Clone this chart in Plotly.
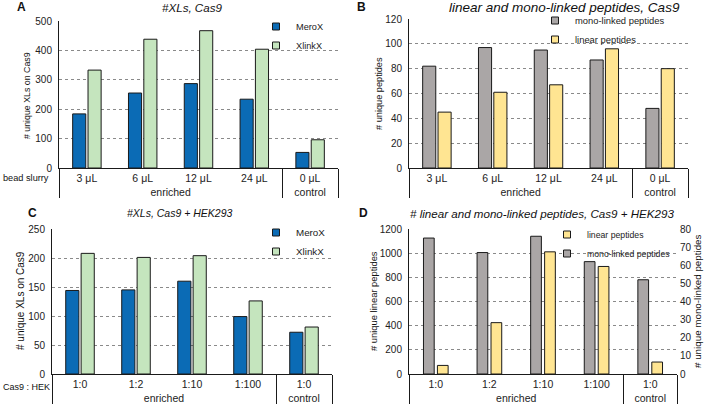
import plotly.graph_objects as go

# ---- data ----
groups_ab = ["enriched"] * 4 + ["control"]
bead_slurry = ["3 μL", "6 μL", "12 μL", "24 μL", "0 μL"]

merox_a = [184, 255, 287, 234, 53]
xlinkx_a = [333, 438, 467, 404, 96]

mono_b = [82, 97, 95, 87, 48]
linear_b = [45, 61, 67, 96, 80]

groups_cd = ["enriched"] * 4 + ["control"]
cas9_hek = ["1:0", "1:2", "1:10", "1:100", "1:0"]

merox_c = [144, 145, 160, 99, 72]
xlinkx_c = [208, 201, 204, 126, 81]

linear_d = [71, 425, 1011, 890, 99]
mono_d = [75, 67, 76, 62, 52]

BLUE = '#0b6bb5'
GREEN = '#c5e5be'
GRAY = '#aaa6a6'
YELLOW = '#ffe592'
EDGE = '#1a1a1a'
FONT = 'Liberation Sans, Arial, sans-serif'
W, H = 708, 410


def px_x(v):
    return v / W


def px_y(v):
    return 1 - v / H


x_ab = [groups_ab, bead_slurry]
x_cd = [groups_cd, cas9_hek]

# bar geometry (category units)
BW, OFF1, OFF2 = 0.235, -0.255, 0.02
BW_D, OFF1_D, OFF2_D = 0.2, -0.23, 0.03

fig = go.Figure()


def bar(x, y, name, color, xa, ya, legend, w=BW, off=OFF1):
    fig.add_trace(go.Bar(
        x=x, y=y, name=name, xaxis=xa, yaxis=ya, showlegend=False,
        width=w, offset=off,
        marker=dict(color=color, line=dict(color=EDGE, width=1)),
    ))
    # small square legend key, like the spreadsheet legend
    fig.add_trace(go.Scatter(
        x=[None], y=[None], name=name, xaxis=xa, yaxis=ya, legend=legend,
        mode='markers', hoverinfo='skip',
        marker=dict(symbol='square', size=7, color=color,
                    line=dict(color=EDGE, width=1)),
    ))


bar(x_ab, merox_a, 'MeroX', BLUE, 'x', 'y', 'legend', off=OFF1)
bar(x_ab, xlinkx_a, 'XlinkX', GREEN, 'x', 'y', 'legend', off=OFF2)
bar(x_ab, mono_b, 'mono-linked peptides', GRAY, 'x2', 'y2', 'legend2', off=OFF1)
bar(x_ab, linear_b, 'linear peptides', YELLOW, 'x2', 'y2', 'legend2', off=OFF2)
bar(x_cd, merox_c, 'MeroX', BLUE, 'x3', 'y3', 'legend3', off=OFF1)
bar(x_cd, xlinkx_c, 'XlinkX', GREEN, 'x3', 'y3', 'legend3', off=OFF2)
bar(x_cd, linear_d, 'linear peptides', YELLOW, 'x4', 'y4', 'legend4', w=BW_D, off=OFF2_D)
bar(x_cd, mono_d, 'mono-linked peptides', GRAY, 'x4', 'y5', 'legend4', w=BW_D, off=OFF1_D)

# panel boxes in pixels: (left, right, top, bottom)
panels = {
    '': (59, 338, 21, 168),
    '2': (409, 688, 19, 168),
    '3': (52, 332, 229, 374),
    '4': (409, 677, 229, 374),
}
yranges = {'': [0, 500], '2': [0, 120], '3': [0, 250], '4': [0, 1200]}
dticks = {'': 100, '2': 20, '3': 50, '4': 200}

tick_font = dict(family=FONT, size=10, color='#222')
for s, (l, r, t, b) in panels.items():
    fig.layout[f'xaxis{s}'] = dict(
        domain=[px_x(l), px_x(r)], anchor=f'y{s}', type='multicategory',
        showline=True, linecolor=EDGE, linewidth=1, ticks='',
        showgrid=False, tickfont=dict(family=FONT, size=10.5, color='#222'),
        automargin=False,
        showdividers=True, dividercolor=EDGE, dividerwidth=1,
        fixedrange=True,
    )
    fig.layout[f'yaxis{s}'] = dict(
        domain=[px_y(b), px_y(t)], anchor=f'x{s}', range=yranges[s],
        dtick=dticks[s], showline=True, linecolor=EDGE, linewidth=1,
        ticks='', ticklabelstandoff=4, tickfont=tick_font, automargin=False,
        showgrid=True, gridcolor='#8a8a8a', griddash='dot', gridwidth=1,
        zeroline=False,
    )

fig.layout['yaxis5'] = dict(
    overlaying='y4', side='right', anchor='x4', range=[0, 80], dtick=10,
    showgrid=False, zeroline=False, showline=False, ticks='',
    ticklabelstandoff=2, tickfont=tick_font, automargin=False,
)

# legends, one per panel: (left px, top px, font size)
leg_pos = {'legend': (256, 12, 9.2), 'legend2': (535, 6, 9.4),
           'legend3': (256, 218, 9.8), 'legend4': (547, 220, 8.7)}
for name, (lx, ly, fs) in leg_pos.items():
    fig.layout[name] = dict(
        x=px_x(lx), y=px_y(ly), xanchor='left', yanchor='top',
        bgcolor='rgba(0,0,0,0)', font=dict(family=FONT, size=fs, color='#222'),
        itemwidth=30, tracegroupgap=0, itemclick=False,
    )

ann = []


def text(x, y, s, size=10, angle=0, xanchor='center', italic=False, bold=False):
    if italic:
        s = f'<i>{s}</i>'
    if bold:
        s = f'<b>{s}</b>'
    ann.append(dict(
        x=px_x(x), y=px_y(y), xref='paper', yref='paper', text=s,
        showarrow=False, textangle=angle, xanchor=xanchor, yanchor='middle',
        font=dict(family=FONT, size=size, color='#111'),
    ))


# panel letters and titles
text(21, 7, 'A', 12, bold=True)
text(192, 7, '#XLs, Cas9', 11.6, italic=True)
text(361, 7, 'B', 12, bold=True)
text(564, 7, 'linear and mono-linked peptides, Cas9', 13.5, italic=True)
text(32, 213, 'C', 12, bold=True)
text(180, 213, '#XLs, Cas9 + HEK293', 10.5, italic=True)
text(363, 213, 'D', 12, bold=True)
text(542, 213, '# linear and mono-linked peptides, Cas9 + HEK293', 11.6, italic=True)

# y axis titles
text(27, 96, '# unique XLs on Cas9', 8.8, angle=-90)
text(379, 94, '# unique peptides', 9.2, angle=-90)
text(20, 301, '# unique XLs on Cas9', 10, angle=-90)
text(373, 301, '# unique linear peptides', 9.4, angle=-90)
text(697, 301, '# unique mono-linked peptides', 9.8, angle=-90)

# row labels of the category axes
text(51, 178, 'bead slurry', 9.2, xanchor='right')
text(1, 387, 'Cas9 : HEK', 9, xanchor='left')

fig.update_layout(
    width=W, height=H, margin=dict(l=0, r=0, t=0, b=0),
    paper_bgcolor='white', plot_bgcolor='white',
    barmode='overlay', showlegend=True, annotations=ann,
    font=dict(family=FONT, size=10, color='#222'),
)

# page has a default body margin; drop it so the figure sits at 0,0
fig.write_html("out.html", config={'displayModeBar': False},
               post_script="document.body.style.margin='0px';")
